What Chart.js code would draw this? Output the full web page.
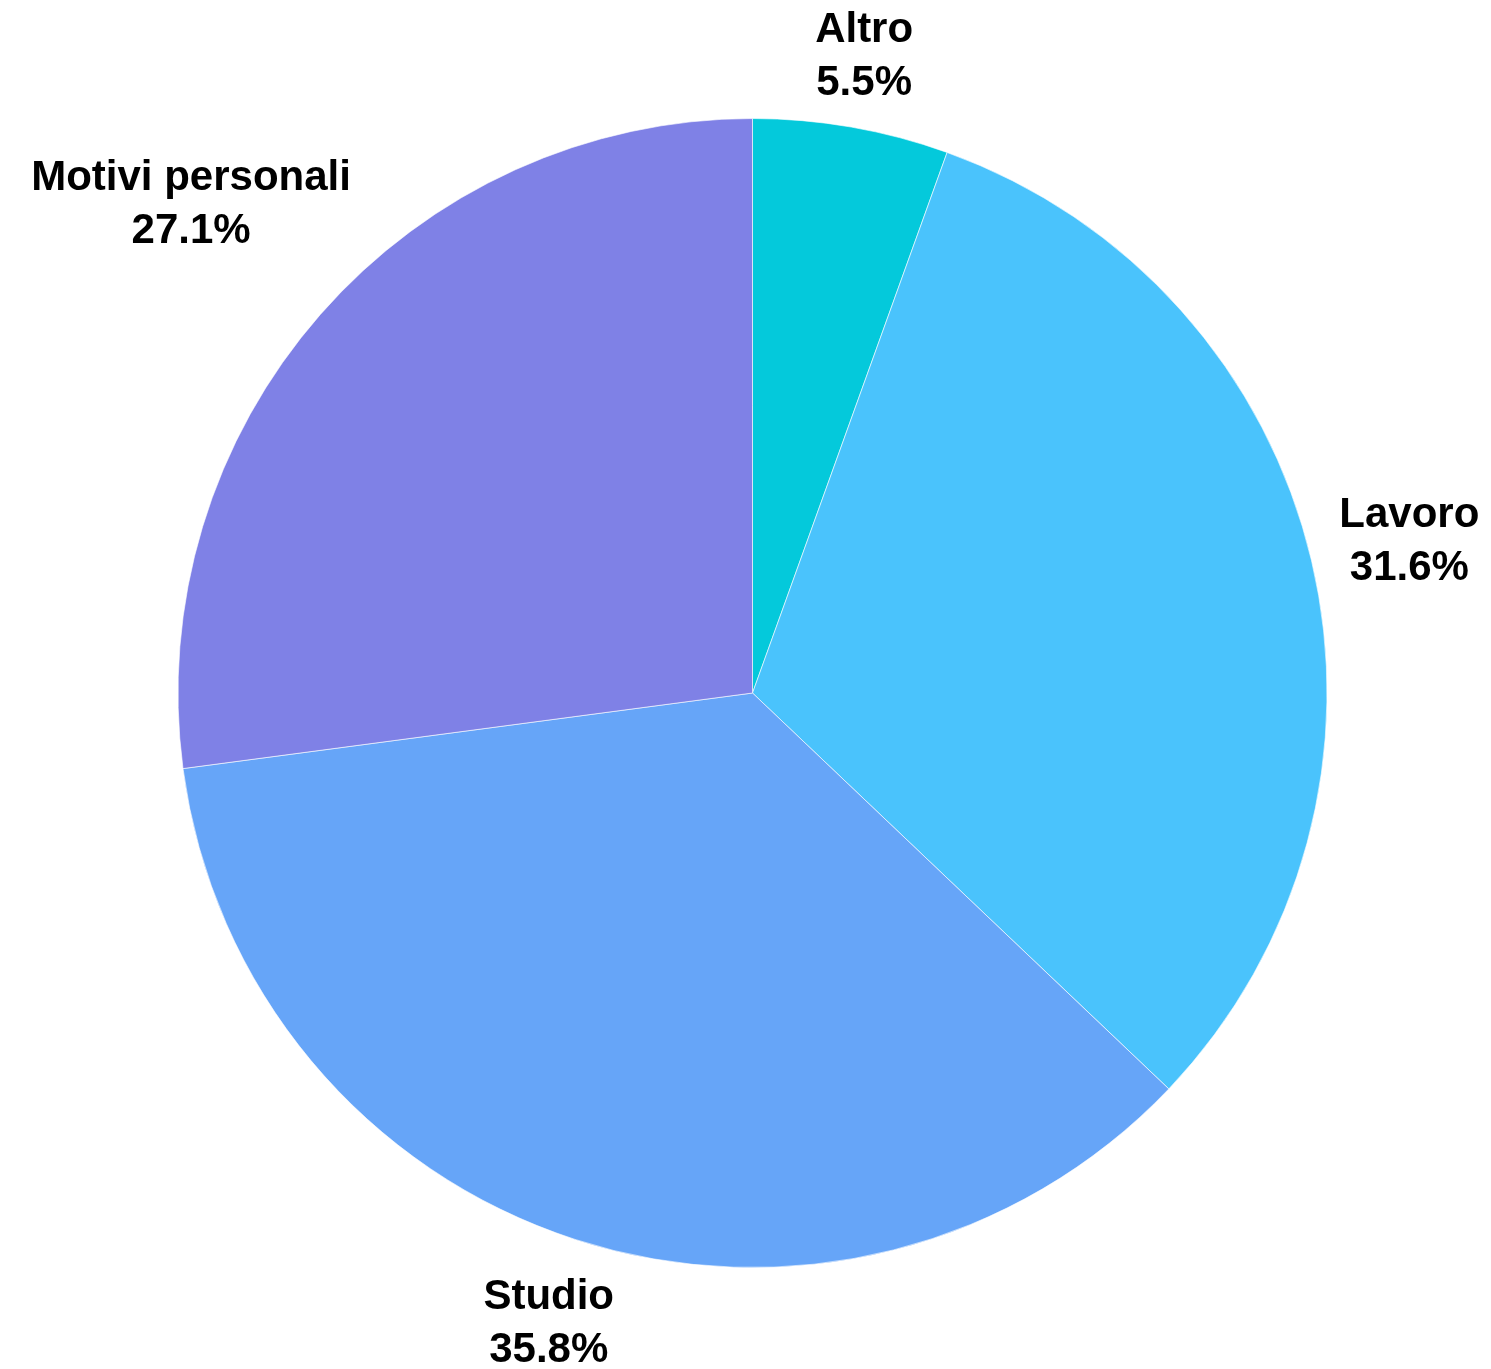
<!DOCTYPE html>
<html>
<head>
<meta charset="utf-8">
<script src="https://cdn.jsdelivr.net/npm/chart.js@4/dist/chart.umd.min.js"></script>
<style>
  html, body { margin: 0; padding: 0; background: #fff; }
  #wrap { width: 1491px; height: 1369px; position: relative; }
</style>
</head>
<body>
<div id="wrap"><canvas id="chart"></canvas></div>
<script>
const labels = ["Altro", "Lavoro", "Studio", "Motivi personali"];
const values = [5.5, 31.6, 35.8, 27.1];
const colors = ["#04C9DB", "#4AC3FC", "#66A5F8", "#7F81E6"];

// etichette fuori dalla torta, spinte in base alla larghezza del testo
const outsideLabels = {
  id: "outsideLabels",
  afterDatasetsDraw(chart) {
    const ctx = chart.ctx;
    const meta = chart.getDatasetMeta(0);
    const fontSize = 42;
    const lineH = 53;
    ctx.save();
    ctx.font = "bold " + fontSize + "px 'Liberation Sans', Arial, sans-serif";
    ctx.fillStyle = "#000";
    ctx.textAlign = "center";
    ctx.textBaseline = "middle";
    meta.data.forEach((arc, i) => {
      const p = arc.getProps(["x", "y", "startAngle", "endAngle", "outerRadius"], true);
      const mid = (p.startAngle + p.endAngle) / 2;
      const lines = [labels[i], values[i].toFixed(1) + "%"];
      const halfW = Math.max(...lines.map(t => ctx.measureText(t).width)) / 2;
      const halfH = 45;
      const c = Math.cos(mid), s = Math.sin(mid);
      const dist = p.outerRadius + 22 + halfW * Math.abs(c) + halfH * Math.abs(s);
      const cx = p.x + c * dist;
      const cy = p.y + s * dist + 4;
      ctx.fillText(lines[0], cx, cy - lineH / 2);
      ctx.fillText(lines[1], cx, cy + lineH / 2);
    });
    ctx.restore();
  }
};

new Chart(document.getElementById("chart"), {
  type: "pie",
  data: {
    labels: labels,
    datasets: [{
      data: values,
      backgroundColor: colors,
      borderColor: "rgba(255,255,255,0.6)",
      borderWidth: 1
    }]
  },
  options: {
    responsive: true,
    maintainAspectRatio: false,
    animation: false,
    layout: { padding: { left: 176, right: 162, top: 118, bottom: 101 } },
    plugins: {
      legend: { display: false },
      tooltip: { enabled: false }
    }
  },
  plugins: [outsideLabels]
});
</script>
</body>
</html>
